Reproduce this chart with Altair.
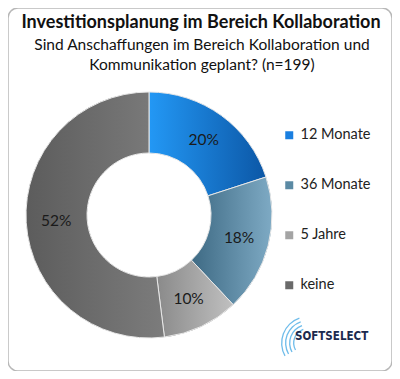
import altair as alt
import pandas as pd

categories = ["12 Monate", "36 Monate", "5 Jahre", "keine"]
values = [20, 18, 10, 52]
labels = ["20%", "18%", "10%", "52%"]
colors = ["#1a7fe0", "#5b8aa4", "#a4a4a4", "#6a6a6a"]
gradients = [
    ("#2398f5", "#0c57a6"),
    ("#3e6a84", "#7eaac4"),
    ("#8a8a8a", "#c0c0c0"),
    ("#5c5c5c", "#7c7c7c"),
]

title = "Investitionsplanung im Bereich Kollaboration"
subtitle = ["Sind Anschaffungen im Bereich Kollaboration und", "Kommunikation geplant? (n=199)"]

df = pd.DataFrame({"cat": categories, "value": values, "label": labels, "order": range(len(categories))})

W, H = 384, 363
CX, CY = 141, 207
R_OUT, R_IN = 123, 62

base = alt.Chart(df).transform_stack(
    stack="value", groupby=[], as_=["start", "end"], sort=[alt.SortField("order")]
).transform_calculate(mid="(datum.start + datum.end) / 2")

theta_scale = alt.Scale(domain=[0, sum(values)])

arcs = base.mark_arc(innerRadius=R_IN, outerRadius=R_OUT).encode(
    x=alt.value(CX), y=alt.value(CY),
    theta=alt.Theta("start:Q", scale=theta_scale),
    theta2="end:Q",
    color=alt.Color("cat:N", scale=alt.Scale(domain=categories, range=colors),
                    legend=alt.Legend(title=None, orient="none", legendX=274, legendY=120,
                                      symbolType="square", symbolSize=64, symbolStrokeWidth=0,
                                      labelFontSize=14.5, labelFont="Lato", labelColor="#222",
                                      rowPadding=35, labelOffset=4)),
)

grad_layers = []
for c, (g1, g2) in zip(categories, gradients):
    grad_layers.append(
        base.transform_filter(alt.datum.cat == c).mark_arc(
            innerRadius=R_IN, outerRadius=R_OUT, stroke="#e8e8e8", strokeWidth=1,
            fill=alt.Gradient(gradient="linear", x1=0, y1=0, x2=1, y2=0,
                              stops=[alt.GradientStop(color=g1, offset=0),
                                     alt.GradientStop(color=g2, offset=1)]),
        ).encode(
            x=alt.value(CX), y=alt.value(CY),
            theta=alt.Theta("start:Q", scale=theta_scale),
            theta2="end:Q",
        )
    )

text = base.mark_text(fontSize=15.5, font="Lato", color="#1a1a1a", radius=93).encode(
    x=alt.value(CX), y=alt.value(CY),
    theta=alt.Theta("mid:Q", scale=theta_scale),
    text="label:N",
)

tdf = pd.DataFrame({"t": [title, subtitle[0], subtitle[1]]})
titles_bold = alt.Chart(tdf.iloc[[0]]).mark_text(font="Lato", fontWeight="bold", fontSize=18, color="#111").encode(
    x=alt.value(W / 2 + 1), y=alt.value(15), text="t:N")
sub1 = alt.Chart(tdf.iloc[[1]]).mark_text(font="Lato", fontSize=15.5, color="#111").encode(
    x=alt.value(W / 2 + 2), y=alt.value(37), text="t:N")
sub2 = alt.Chart(tdf.iloc[[2]]).mark_text(font="Lato", fontSize=15.5, color="#111").encode(
    x=alt.value(W / 2 + 2), y=alt.value(57), text="t:N")

swoosh_r = [15, 19, 23, 27]
swoosh = alt.Chart(pd.DataFrame({"r": swoosh_r, "r2": [r - 1.3 for r in swoosh_r]})).mark_arc(
    color="#55b0e6", opacity=0.85, theta=4.2, theta2=5.95
).encode(x=alt.value(300), y=alt.value(335),
         radius=alt.Radius("r:Q", scale=None), radius2="r2:Q")

logo = alt.Chart(pd.DataFrame({"t": ["SOFTSELECT"]})).mark_text(
    font="DejaVu Sans Condensed", fontWeight="bold", fontSize=11.5, color="#1b2a4e", align="left"
).encode(x=alt.value(287), y=alt.value(329), text="t:N")

chart = alt.layer(arcs, *grad_layers, text, titles_bold, sub1, sub2, swoosh, logo).properties(
    width=W, height=H, autosize=alt.AutoSizeParams(type="fit", contains="padding"), padding=0
).configure_view(stroke="#b8b8b8", strokeWidth=1.5, cornerRadius=10, fill="white")

chart.save("out.html", embed_options={"renderer": "svg", "actions": False})
